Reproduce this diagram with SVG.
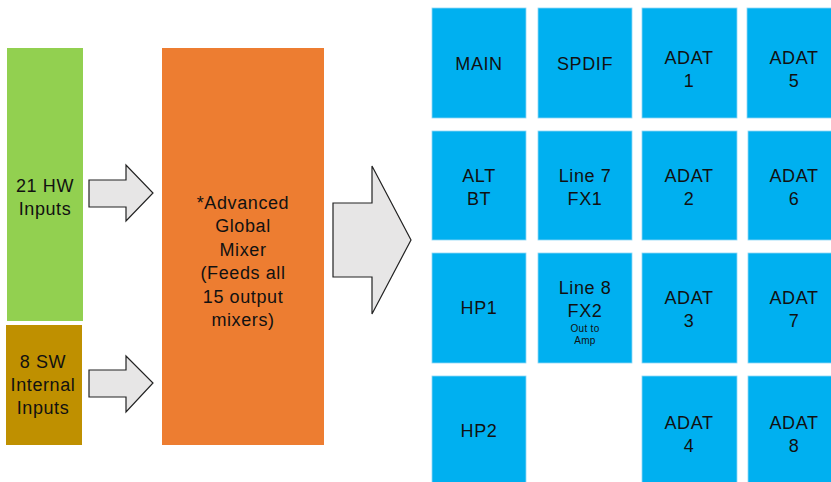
<svg xmlns="http://www.w3.org/2000/svg" width="831" height="482" viewBox="0 0 831 482">
<style>
text{font-family:"Liberation Sans",Arial,sans-serif;font-size:18px;fill:#111;text-anchor:middle;letter-spacing:0.6px}
.sm{font-size:10px;letter-spacing:0.3px}
.tile{fill:#00B0F0;stroke:#8fd8f5;stroke-width:0.8}
.arr{fill:#E7E6E6;stroke:#222;stroke-width:1.2;stroke-linejoin:miter}
</style>
<rect width="831" height="482" fill="#fff"/>
<g id="hw"><rect x="7" y="48" width="76" height="273" fill="#92D050"/><text x="45" y="192">21 HW</text><text x="45" y="215">Inputs</text></g>
<g id="sw"><rect x="6" y="325" width="76" height="120" fill="#BF9000"/><text x="43" y="368">8 SW</text><text x="43" y="391">Internal</text><text x="43" y="414">Inputs</text></g>
<g id="mixer"><rect x="162" y="48" width="162" height="397" fill="#ED7D31"/>
<text x="243" y="209">*Advanced</text><text x="243" y="232">Global</text><text x="243" y="256">Mixer</text><text x="243" y="279">(Feeds all</text><text x="243" y="303">15 output</text><text x="243" y="326">mixers)</text></g>
<g id="connectors">
<path class="arr" d="M89,180H126V165L153,193L126,221V207H89Z"/>
<path class="arr" d="M89,370H126V356L153,383L126,412V397H89Z"/>
<path class="arr" d="M333,203H372V166L411,240L372,314V277H333Z"/>
</g>
<g id="main"><rect class="tile" x="432" y="8" width="94" height="110"/><text x="479" y="70">MAIN</text></g>
<g id="spdif"><rect class="tile" x="538" y="8" width="94" height="110"/><text x="585" y="70">SPDIF</text></g>
<g id="adat1"><rect class="tile" x="642" y="8" width="95" height="110"/><text x="689" y="64">ADAT</text><text x="689" y="87">1</text></g>
<g id="adat5"><rect class="tile" x="747" y="8" width="95" height="110"/><text x="794" y="64">ADAT</text><text x="794" y="87">5</text></g>
<g id="altbt"><rect class="tile" x="432" y="131" width="94" height="109"/><text x="479" y="182">ALT</text><text x="479" y="205">BT</text></g>
<g id="line7"><rect class="tile" x="538" y="131" width="94" height="109"/><text x="585" y="182">Line 7</text><text x="585" y="205">FX1</text></g>
<g id="adat2"><rect class="tile" x="642" y="131" width="95" height="109"/><text x="689" y="182">ADAT</text><text x="689" y="205">2</text></g>
<g id="adat6"><rect class="tile" x="748" y="131" width="95" height="109"/><text x="794" y="182">ADAT</text><text x="794" y="205">6</text></g>
<g id="hp1"><rect class="tile" x="432" y="253" width="94" height="110"/><text x="479" y="314">HP1</text></g>
<g id="line8"><rect class="tile" x="538" y="253" width="94" height="110"/><text x="585" y="294">Line 8</text><text x="585" y="317">FX2</text><text class="sm" x="585" y="332">Out to</text><text class="sm" x="585" y="344">Amp</text></g>
<g id="adat3"><rect class="tile" x="642" y="253" width="95" height="110"/><text x="689" y="304">ADAT</text><text x="689" y="327">3</text></g>
<g id="adat7"><rect class="tile" x="748" y="253" width="95" height="110"/><text x="794" y="304">ADAT</text><text x="794" y="327">7</text></g>
<g id="hp2"><rect class="tile" x="432" y="376" width="94" height="110"/><text x="479" y="437">HP2</text></g>
<g id="adat4"><rect class="tile" x="642" y="376" width="95" height="110"/><text x="689" y="429">ADAT</text><text x="689" y="452">4</text></g>
<g id="adat8"><rect class="tile" x="748" y="376" width="95" height="110"/><text x="794" y="429">ADAT</text><text x="794" y="452">8</text></g>
</svg>
